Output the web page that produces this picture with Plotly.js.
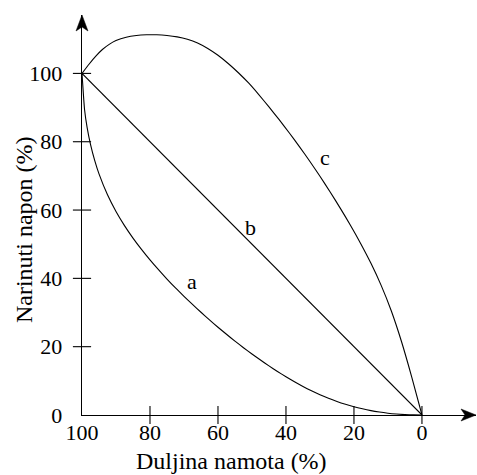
<!DOCTYPE html>
<html><head><meta charset="utf-8">
<script src="https://cdn.plot.ly/plotly-3.0.1.min.js"></script>
<style>html,body{margin:0;padding:0;background:#fff}</style>
</head><body><div id="chart" style="width:477px;height:475px"></div>
<script>
// Curve a (convex, below the diagonal)
const aX = [100, 99.25, 98.5, 97.5, 96.25, 95, 92.5, 90, 87.5, 85, 82.5, 80, 77.5, 75, 72.5, 70, 67.5, 65, 62.5, 60, 57.5, 55, 52.5, 50, 47.5, 45, 42.5, 40, 37.5, 35, 32.5, 30, 27.5, 25, 22.5, 20, 17.5, 15, 12.5, 10, 7.5, 5, 2.5, 0];
const aY = [100, 89.45, 84.2, 79.2, 74.45, 70.58, 64.45, 59.58, 55.45, 51.8, 48.48, 45.4, 42.53, 39.8, 37.2, 34.75, 32.38, 30.08, 27.85, 25.7, 23.63, 21.63, 19.7, 17.85, 16.08, 14.38, 12.75, 11.2, 9.72, 8.35, 7.09, 5.95, 4.91, 3.98, 3.16, 2.44, 1.82, 1.29, 0.87, 0.53, 0.28, 0.12, 0.03, 0];
// Curve b (diagonal)
const bX = [100, 0];
const bY = [100, 0];
// Curve c (bulging above)
const cX = [100, 98, 96, 94, 92, 90, 87, 84, 81, 78, 75, 72, 69, 66, 63, 60, 57, 54, 51, 48, 45, 42, 39, 36, 33, 30, 27, 24, 21, 18, 15, 12, 9, 6, 3, 0];
const cY = [100, 102.6, 105, 107, 108.5, 109.6, 110.6, 111.1, 111.3, 111.3, 111.1, 110.7, 110, 108.9, 107.3, 105.3, 102.9, 100.2, 97.2, 93.8, 90.2, 86.45, 82.55, 78.5, 74.3, 69.9, 65.3, 60.5, 55.5, 50.15, 44.4, 37.95, 30.45, 21.45, 11.1, 0];
// Curve labels
const labelText = ['a', 'b', 'c'];
const labelX = [67.6, 50.3, 28.5];
const labelY = [39.2, 54.8, 75.5];
// Ticks
const xTicks = [100, 80, 60, 40, 20, 0];
const yTicks = [0, 20, 40, 60, 80, 100];
const xTickMarks = [80, 60, 40, 20, 0];
const yTickMarks = [20, 40, 60, 80, 100];
const xTitle = 'Duljina namota (%)';
const yTitle = 'Narinuti napon (%)';

const serif = "'Liberation Serif', 'DejaVu Serif', 'Times New Roman', serif";
const lineStyle = {color: '#000', width: 1.1};

const traces = [
  {x: aX, y: aY, mode: 'lines', line: Object.assign({shape: 'spline', smoothing: 0.5}, lineStyle), hoverinfo: 'skip'},
  {x: bX, y: bY, mode: 'lines', line: lineStyle, hoverinfo: 'skip'},
  {x: cX, y: cY, mode: 'lines', line: Object.assign({shape: 'spline', smoothing: 0.5}, lineStyle), hoverinfo: 'skip'},
  {x: xTickMarks, y: xTickMarks.map(() => 0), mode: 'markers', cliponaxis: false,
   marker: {symbol: 'line-ns', size: 13, line: {color: '#000', width: 1.1}}, hoverinfo: 'skip'},
  {x: yTickMarks.map(() => 100), y: yTickMarks, mode: 'markers', cliponaxis: false,
   marker: {symbol: 'line-ew', size: 13, line: {color: '#000', width: 1.1}}, hoverinfo: 'skip'}
];

const annotations = labelText.map((t, i) => ({
  x: labelX[i], y: labelY[i], xref: 'x', yref: 'y', text: t, showarrow: false,
  font: {family: serif, size: 22, color: '#000'}
}));
annotations.push({x: 0.3794, y: -0.115, xref: 'paper', yref: 'paper', text: xTitle, showarrow: false,
  xanchor: 'center', yanchor: 'middle', font: {family: serif, size: 24, color: '#000'}});
annotations.push({x: -0.147, y: 0.4625, xref: 'paper', yref: 'paper', text: yTitle, showarrow: false, textangle: -90,
  xanchor: 'center', yanchor: 'middle', font: {family: serif, size: 24, color: '#000'}});

const layout = {
  width: 477, height: 475,
  margin: {l: 82, r: 1, t: 15, b: 60, pad: 0},
  paper_bgcolor: '#fff', plot_bgcolor: '#fff',
  showlegend: false,
  font: {family: serif, color: '#000'},
  xaxis: {range: [100, -15.9], tickvals: xTicks, ticktext: xTicks.map(String), ticks: '',
    showgrid: false, zeroline: false, showline: true, linecolor: '#000', linewidth: 1.3,
    tickfont: {family: serif, size: 22, color: '#000'}, ticklabelstandoff: -3, fixedrange: true},
  yaxis: {range: [0, 117.1], tickvals: yTicks, ticktext: yTicks.map(String), ticks: '',
    showgrid: false, zeroline: false, showline: true, linecolor: '#000', linewidth: 1.3,
    tickfont: {family: serif, size: 22, color: '#000'}, ticklabelstandoff: 14, fixedrange: true},
  annotations: annotations,
  shapes: [
    {type: 'path', xref: 'paper', yref: 'paper', xsizemode: 'pixel', ysizemode: 'pixel',
     xanchor: 1, yanchor: 0, path: 'M0,0 L-15,6 L-11,0 L-15,-6 Z',
     fillcolor: '#000', line: {color: '#000', width: 0.5}},
    {type: 'path', xref: 'paper', yref: 'paper', xsizemode: 'pixel', ysizemode: 'pixel',
     xanchor: 0, yanchor: 1, path: 'M0,0 L-6,-16 L0,-12 L6,-16 Z',
     fillcolor: '#000', line: {color: '#000', width: 0.5}}
  ]
};

Plotly.newPlot('chart', traces, layout, {staticPlot: true, displayModeBar: false});
</script>
</body></html>
